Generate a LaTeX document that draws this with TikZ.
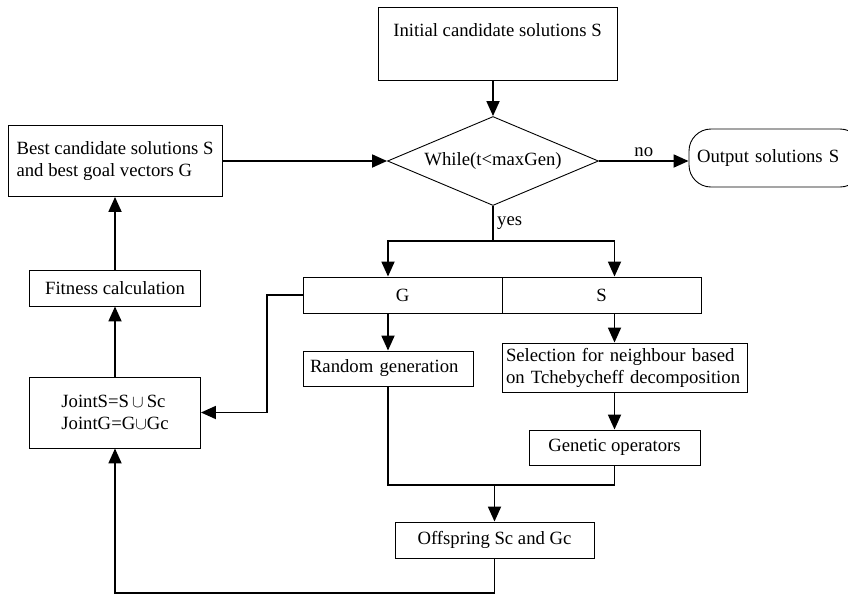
\documentclass[tikz,border=0pt]{standalone}
\usepackage{fontspec}
\setmainfont{Liberation Serif}
\usepackage{tikz}
\usetikzlibrary{shapes,arrows.meta,positioning}

\begin{document}
\begin{tikzpicture}[x=1pt, y=-1pt,
      every node/.append style={font=\fontsize{18.7}{22}\selectfont},
      box/.style={draw, rectangle, line width=0.9pt, inner sep=0pt},
      link/.style={line width=1.8pt, -{Triangle[length=15pt, width=13pt]}},
      plain/.style={line width=1.8pt}]
    \useasboundingbox (0,0) rectangle (848,595);
    \node (init) [box, minimum width=239pt, text height=29pt, text depth=44pt] at (497.5,43.5) {Initial candidate solutions S};
    \node (while) [diamond, aspect=2.37, draw, line width=0.9pt, inner sep=0pt, minimum width=211pt, minimum height=89pt] at (493,161) {While(t<maxGen)};
    \node (out) [box, rounded corners=22pt, minimum width=173pt, minimum height=58pt, text width=157pt, align=left] at (775.5,158) {Output solutions S};
    \node (best) [box, minimum width=214pt, minimum height=71pt, align=left] at (115,161) {Best candidate solutions S\\and best goal vectors G};
    \node (fit) [box, minimum width=171pt, minimum height=36pt] at (115,288) {Fitness calculation};
    \node (joint) [box, minimum width=171pt, minimum height=71pt, align=left] at (115,412.5) {JointS=S\,$\cup$\,Sc\\JointG=G$\cup$Gc};
    \node (G) [box, minimum width=199pt, minimum height=36pt] at (402.5,295) {G};
    \node (S) [box, minimum width=199pt, minimum height=36pt] at (601.5,295) {S};
    \node (rand) [box, minimum width=170pt, minimum height=35pt, text width=156pt, align=left] at (388,368.5) {Random generation};
    \node (sel) [box, minimum width=245pt, minimum height=49pt, text width=237pt, align=left] at (624.5,367.5) {Selection for neighbour based\\on Tchebycheff decomposition};
    \node (gen) [box, minimum width=171pt, minimum height=35pt] at (614.5,447.5) {Genetic operators};
    \node (off) [box, minimum width=199pt, minimum height=36pt] at (494.5,540) {Offspring Sc and Gc};

    % branch and join points
    \coordinate (split) at (while.south |- 0,241);
    \coordinate (merge) at (off.north |- 0,485);
    \coordinate (loop) at (off.south |- 0,593);
    \coordinate (turn) at (267,295);

    \draw[link] (init.south -| while.north) -- (while.north);
    \draw[link] (best.east) -- (while.west);
    \draw[link] (while.east) -- node[above] {no} (while.east -| out.west);
    \draw[plain] (while.south) -- node[right] {yes} (split);
    \draw[link] (split) -| (rand.north |- G.north);
    \draw[link] (split) -| (gen.north |- S.north);
    \draw[link] (G.south -| rand.north) -- (rand.north);
    \draw[link] (S.south -| gen.north) -- (sel.north -| gen.north);
    \draw[link] (sel.south -| gen.north) -- (gen.north);
    \draw[plain] (rand.south) |- (merge) -| (gen.south);
    \draw[link] (merge) -- (off.north);
    \draw[link] (off.south) -- (loop) -| (joint.south);
    \draw[link] (G.west) -- (turn) |- (joint.east);
    \draw[link] (joint.north) -- (fit.south);
    \draw[link] (fit.north) -- (best.south);
\end{tikzpicture}
\end{document}
